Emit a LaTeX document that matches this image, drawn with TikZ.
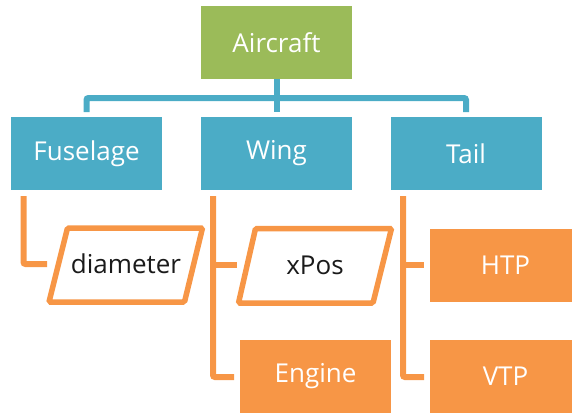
\documentclass[tikz,border=0pt]{standalone}
\usepackage{fontspec}
\setmainfont{Open Sans}
\definecolor{leafgreen}{HTML}{9BBB59}
\definecolor{teal}{HTML}{4BACC6}
\definecolor{tangerine}{HTML}{F79646}
\definecolor{inktext}{HTML}{1A1A1A}
\begin{document}
\begin{tikzpicture}[x=1pt,y=-1pt,
  every node/.style={font=\fontsize{26}{30}\selectfont, inner sep=0pt},
  rootbox/.style={rectangle, fill=leafgreen, text=white, minimum width=151pt, minimum height=73pt},
  partbox/.style={rectangle, fill=teal, text=white, minimum width=151pt, minimum height=73pt},
  leafbox/.style={rectangle, fill=tangerine, text=white, minimum width=151pt, minimum height=73pt},
  paramtext/.style={text=inktext},
  paramframe/.style={draw=tangerine, line width=5.5pt, rounded corners=1.5pt, fill=white},
  trunk/.style={draw=teal, line width=6pt, rounded corners=2pt},
  branch/.style={draw=tangerine, line width=6pt, rounded corners=2pt},
]
\useasboundingbox (0,0) rectangle (572,412);
\clip (0,0) rectangle (572,412);

% top level and its three parts
\node[rootbox] (aircraft) at (276.5,42.5) {Aircraft};
\node[partbox] (fuselage) at (86.5,153.5) {Fuselage};
\node[partbox] (wing) at (276.5,153.5) {Wing};
\node[partbox] (tail) at (466,153.5) {Tail};

% blue tree connector
\coordinate (bus) at (276.5,98);
\coordinate (fstub) at (86.5,112);
\coordinate (tstub) at (466,112);
\coordinate (wstub) at (276.5,112);
\draw[trunk] (fstub) |- (bus) -| (tstub);
\draw[trunk] (aircraft.south) -- (wstub);

% parameters drawn as parallelograms
\draw[paramframe] (67.5,228) -- (202.5,228) -- (184.5,302) -- (49,302) -- cycle;
\node[paramtext] (diameter) at (126,264) {diameter};
\draw[paramframe] (255.5,228.5) -- (391.5,228.5) -- (373,303) -- (238.5,303) -- cycle;
\node[paramtext] (xpos) at (315,265) {xPos};

% component boxes
\node[leafbox] (engine) at (315.5,376.5) {Engine};
\node[leafbox] (htp) at (505.5,265) {HTP};
\node[leafbox] (vtp) at (505.5,376.5) {VTP};

% orange branch connectors
\coordinate (fdrop) at (23.5,196);
\coordinate (fend) at (47,264);
\draw[branch] (fdrop) |- (fend);

\coordinate (wdrop) at (213,196);
\coordinate (wmid) at (213,265);
\coordinate (xposend) at (237,265);
\coordinate (engineend) at (234,377);
\draw[branch] (wdrop) |- (engineend);
\draw[branch] (wmid) -- (xposend);

\coordinate (tdrop) at (403,196);
\coordinate (tmid) at (403,265);
\coordinate (htpend) at (424,265);
\coordinate (vtpend) at (424,377);
\draw[branch] (tdrop) |- (vtpend);
\draw[branch] (tmid) -- (htpend);
\end{tikzpicture}
\end{document}
